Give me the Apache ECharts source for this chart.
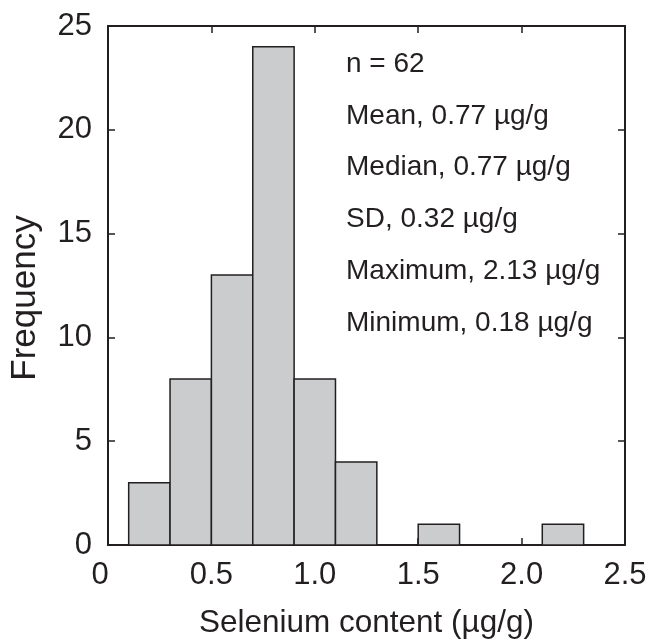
<!DOCTYPE html>
<html>
<head>
<meta charset="utf-8">
<script src="https://cdn.jsdelivr.net/npm/echarts@6/dist/echarts.min.js"></script>
<style>
  html,body{margin:0;padding:0;background:#fff}
  #chart{width:651px;height:640px}
</style>
</head>
<body>
<div id="chart"></div>
<script>
// histogram bins (left edge, µg/g) and counts
var binStarts = [0.1, 0.3, 0.5, 0.7, 0.9, 1.1, 1.5, 2.1]
var binCounts = [3, 8, 13, 24, 8, 4, 1, 1]
var binWidth = 0.2
var xTicks = [0, 0.5, 1.0, 1.5, 2.0, 2.5]
var yTicks = [0, 5, 10, 15, 20, 25]
var statLines = ['n = 62', 'Mean, 0.77 µg/g', 'Median, 0.77 µg/g', 'SD, 0.32 µg/g', 'Maximum, 2.13 µg/g', 'Minimum, 0.18 µg/g']

var ink = '#231f20'
var font = 'Liberation Sans, Arial, Helvetica, sans-serif'

var histData = []
for (var i = 0; i < binStarts.length; i++) {
  histData.push([binStarts[i], binStarts[i] + binWidth, binCounts[i]])
}

function renderBar(params, api) {
  var p0 = api.coord([api.value(0), api.value(2)])
  var p1 = api.coord([api.value(1), 0])
  return {
    type: 'rect',
    shape: { x: p0[0], y: p0[1], width: p1[0] - p0[0], height: p1[1] - p0[1] },
    style: { fill: '#cbcccd', stroke: ink, lineWidth: 1.5 }
  }
}

var chart = echarts.init(document.getElementById('chart'), null, { renderer: 'canvas' })

var graphics = []
for (var k = 0; k < statLines.length; k++) {
  graphics.push({
    type: 'text', left: 346, top: 50 + k * 51.8,
    style: { text: statLines[k], fill: ink, font: '28px ' + font }
  })
}
// y axis title, drawn by hand so it can sit a bit below the middle like the original
graphics.push({
  type: 'text', x: 25, y: 298, rotation: Math.PI / 2,
  style: { text: 'Frequency', fill: ink, font: '35px ' + font, align: 'center', verticalAlign: 'middle' }
})

function axisBase() {
  return {
    type: 'value',
    axisLine: { show: true, onZero: false, lineStyle: { color: ink, width: 2 } },
    axisTick: { show: true, inside: true, length: 7, lineStyle: { color: ink, width: 1.5 } },
    splitLine: { show: false }
  }
}

chart.setOption({
  animation: false,
  grid: { left: 108, right: 26, top: 26, bottom: 95, outerBoundsMode: 'none' },
  xAxis: [
    Object.assign(axisBase(), {
      position: 'bottom', min: 0, max: 2.5, interval: 0.5,
      name: 'Selenium content (µg/g)', nameLocation: 'middle', nameGap: 62,
      nameTextStyle: { fontSize: 31.5, color: ink, fontFamily: font },
      axisLabel: {
        margin: 15, color: ink, fontSize: 31, fontFamily: font,
        formatter: function (v) {
          if (v === 0) return '{z|0}'
          return v.toFixed(1)
        },
        rich: { z: { fontSize: 31, color: ink, fontFamily: font, padding: [0, 16, 0, 0] } }
      }
    }),
    Object.assign(axisBase(), {
      position: 'top', min: 0, max: 2.5, interval: 0.5,
      axisLabel: { show: false }
    })
  ],
  yAxis: [
    Object.assign(axisBase(), {
      position: 'left', min: 0, max: 25, interval: 5,
      axisLabel: { margin: 16, color: ink, fontSize: 31, fontFamily: font }
    }),
    Object.assign(axisBase(), {
      position: 'right', min: 0, max: 25, interval: 5,
      axisLabel: { show: false }
    })
  ],
  series: [{
    type: 'custom',
    renderItem: renderBar,
    encode: { x: [0, 1], y: 2 },
    data: histData,
    z: 1
  }],
  graphic: graphics
})
</script>
</body>
</html>
